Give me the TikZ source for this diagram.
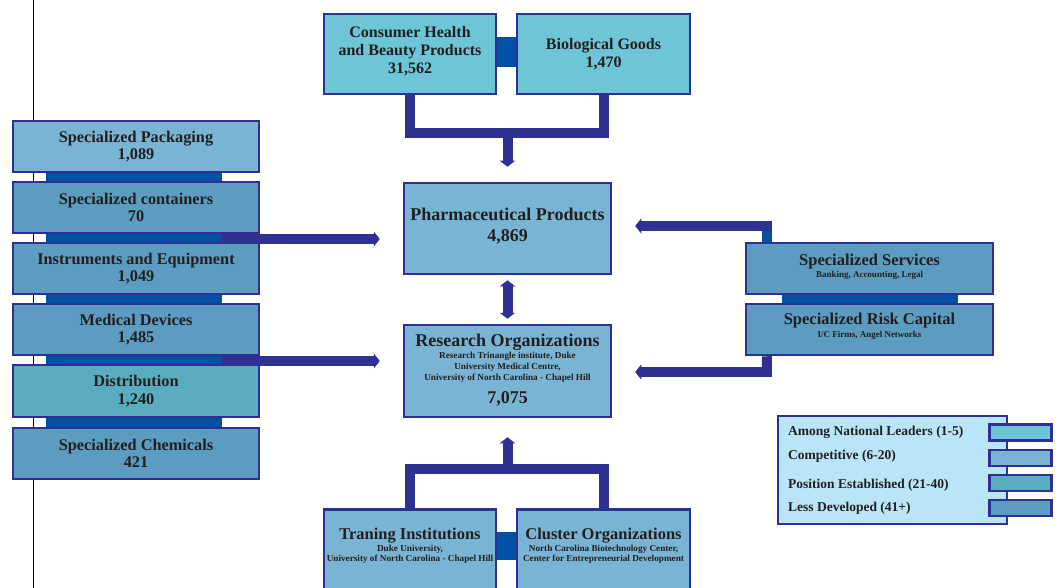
\documentclass[tikz,border=0pt]{standalone}
\usepackage{fontspec}
\setmainfont{Liberation Serif}
\usetikzlibrary{arrows.meta,calc,backgrounds}
\definecolor{navy}{HTML}{2E3192}
\definecolor{linkblue}{HTML}{0051A3}
\definecolor{cLead}{HTML}{6DC5D7}
\definecolor{cComp}{HTML}{7AB4D4}
\definecolor{cPos}{HTML}{5AADC1}
\definecolor{cLess}{HTML}{5B9CC0}
\definecolor{cLegend}{HTML}{B9E5F7}
\definecolor{ink}{HTML}{231F20}
\newcommand{\bigt}[1]{{\fontsize{18}{12}\selectfont #1}}
\newcommand{\midt}[1]{{\fontsize{16.5}{12}\selectfont #1}}
\tikzset{
  box/.style={draw=navy, line width=2.5pt, inner sep=0pt, align=center, text=ink},
  sidebox/.style={box, minimum width=246pt, minimum height=51pt, font=\bfseries\fontsize{16.3}{17.5}\selectfont},
  txt/.style={inner sep=0pt, align=center, text=ink, font=\bfseries\fontsize{9.2}{12}\selectfont},
  bar/.style={draw=navy, line width=10pt},
  arr/.style={bar, -{Triangle[length=6pt,width=15pt]}},
  darr/.style={bar, {Triangle[length=6pt,width=15pt]}-{Triangle[length=6pt,width=15pt]}},
  swatch/.style={draw=navy, line width=2.5pt, minimum width=62pt, minimum height=16pt, inner sep=0pt},
  legtxt/.style={inner sep=0pt, anchor=west, text=ink, font=\bfseries\fontsize{13.5}{15}\selectfont},
}
\begin{document}
\begin{tikzpicture}[x=1pt,y=-1pt]
\useasboundingbox (0,0) rectangle (1060,588);

% top boxes
\node[box, fill=cLead, minimum width=172pt, minimum height=80pt] (cons) at (410,54) {};
\node[txt, font=\bfseries\fontsize{16}{18.2}\selectfont] (consT) at (410,51) {Consumer Health\\and Beauty Products\\31,562};
\node[box, fill=cLead, minimum width=173pt, minimum height=80pt, font=\bfseries\fontsize{16}{18.5}\selectfont] (bio) at (603.5,54) {Biological Goods\\1,470};

% left column
\node[sidebox, fill=cComp] (pack) at (136,146.5) {Specialized Packaging\\1,089};
\node[sidebox, fill=cLess] (cont) at (136,207.5) {Specialized containers\\70};
\node[sidebox, fill=cLess] (instr) at (136,268.5) {Instruments and Equipment\\1,049};
\node[sidebox, fill=cLess] (med) at (136,329.5) {Medical Devices\\1,485};
\node[sidebox, fill=cPos, minimum height=52pt] (dist) at (136,391) {Distribution\\1,240};
\node[sidebox, fill=cLess] (chem) at (136,453.5) {Specialized Chemicals\\421};

% centre
\node[box, fill=cComp, minimum width=207pt, minimum height=91pt] (pharma) at (507.5,228.5) {};
\node[txt] (pharmaT) at (507.5,226) {\bigt{Pharmaceutical Products}\\[8pt]\bigt{4,869}};
\node[box, fill=cComp, minimum width=207pt, minimum height=92pt] (res) at (507.5,371) {};
\node[txt] (resT) at (507.5,370)
 {\bigt{Research Organizations}\\[0pt]
  Research Trinangle institute, Duke\\[-1pt]
  University Medical Centre,\\[-1pt]
  University of North Carolina - Chapel Hill\\[8pt]
  \bigt{7,075}};

% right
\node[box, fill=cLess, minimum width=247pt, minimum height=51pt] (serv) at (869.5,268.5) {};
\node[txt, font=\bfseries\fontsize{9}{12}\selectfont] (servT) at (869.5,266.7)
 {\midt{Specialized Services}\\[-0.8pt]Banking, Accounting, Legal};
\node[box, fill=cLess, minimum width=247pt, minimum height=51pt] (risk) at (869.5,329.5) {};
\node[txt, font=\bfseries\fontsize{9}{12}\selectfont] (riskT) at (869.5,326.2)
 {\midt{Specialized Risk Capital}\\[0.2pt]I/C Firms, Angel Networks};

% bottom boxes
\node[box, fill=cComp, minimum width=172pt, minimum height=94pt, anchor=north] (trn) at (410,508) {};
\node[box, fill=cComp, minimum width=173pt, minimum height=94pt, anchor=north] (clu) at (603.5,508) {};
\node[txt] (trnT) at (410,545.8)
 {\midt{Traning Institutions}\\[-0.6pt]
  Duke University,\\[-2pt]
  University of North Carolina - Chapel Hill};
\node[txt] (cluT) at (603.5,545.8)
 {\midt{Cluster Organizations}\\[-0.6pt]
  North Carolina Biotechnology Center,\\[-2pt]
  Center for Entrepreneurial Development};

% legend
\node[draw=navy, line width=2pt, fill=cLegend, minimum width=229pt, minimum height=108pt, inner sep=0pt] (leg) at (892.5,470) {};
\node[swatch, fill=cLead] (sw1) at (1020.5,432.5) {};
\node[swatch, fill=cComp] (sw2) at (1020.5,458) {};
\node[swatch, fill=cPos] (sw3) at (1020.5,483) {};
\node[swatch, fill=cLess] (sw4) at (1020.5,508) {};
\node[legtxt] (l1) at (788,432) {Among National Leaders (1-5)};
\node[legtxt] (l2) at (788,456) {Competitive (6-20)};
\node[legtxt] (l3) at (788,485) {Position Established (21-40)};
\node[legtxt] (l4) at (788,508) {Less Developed (41+)};

% background: page, rule line, link bars (behind boxes)
\begin{scope}[on background layer]
\fill[white] (0,0) rectangle (1060,588);
\draw[black, line width=0.8pt] (33,0) coordinate (vtop) -- (33,588) coordinate (vbot);
\fill[linkblue] (cons.east |- 0,37) rectangle (bio.west |- 0,67);
\fill[linkblue] (trn.east |- 0,532) rectangle (clu.west |- 0,560);
\fill[linkblue] ($(pack.south west)+(34,0)$) rectangle ($(cont.north east)+(-38,0)$);
\fill[linkblue] ($(cont.south west)+(34,0)$) rectangle ($(instr.north east)+(-38,0)$);
\fill[linkblue] ($(instr.south west)+(34,0)$) rectangle ($(med.north east)+(-38,0)$);
\fill[linkblue] ($(med.south west)+(34,0)$) rectangle ($(dist.north east)+(-38,0)$);
\fill[linkblue] ($(dist.south west)+(34,0)$) rectangle ($(chem.north east)+(-38,0)$);
\fill[linkblue] ($(serv.south west)+(37,0)$) rectangle ($(risk.north east)+(-36,0)$);
\end{scope}

% top bracket
\coordinate (tj) at (507.5,133);
\draw[bar] (cons.south) |- (tj) -| (bio.south);
\draw[arr, shorten >=15pt] (tj) -- (pharma.north);

% bottom bracket
\coordinate (bj) at (507.5,469);
\draw[bar] (trn.north) |- (bj) -| (clu.north);
\draw[arr, shorten >=19pt] (bj) -- (res.south);

% pharma <-> research
\draw[darr, shorten >=5pt, shorten <=5pt] (pharma.south) -- (res.north);

% left arrows
\coordinate (la1) at (222,239);
\coordinate (la2) at (222,361);
\draw[arr, shorten >=23pt] (la1) -- (la1 -| pharma.west);
\draw[arr, shorten >=23pt] (la2) -- (la2 -| res.west);

% right arrows
\coordinate (rs) at ($(serv.north west)+(22,0)$);
\coordinate (rt) at (767,226);
\fill[linkblue] ($(rs)+(-5,0)$) rectangle ($(rt)+(5,-2)$);
\draw[arr, shorten >=23pt, shorten <=-5pt] (rt) -- (rt -| pharma.east);
\coordinate (rr) at ($(risk.south west)+(22,0)$);
\coordinate (rb) at (767,372);
\draw[bar] (rr) -- (rb);
\draw[arr, shorten >=23pt, shorten <=-5pt] (rb) -- (rb -| res.east);
\end{tikzpicture}
\end{document}
